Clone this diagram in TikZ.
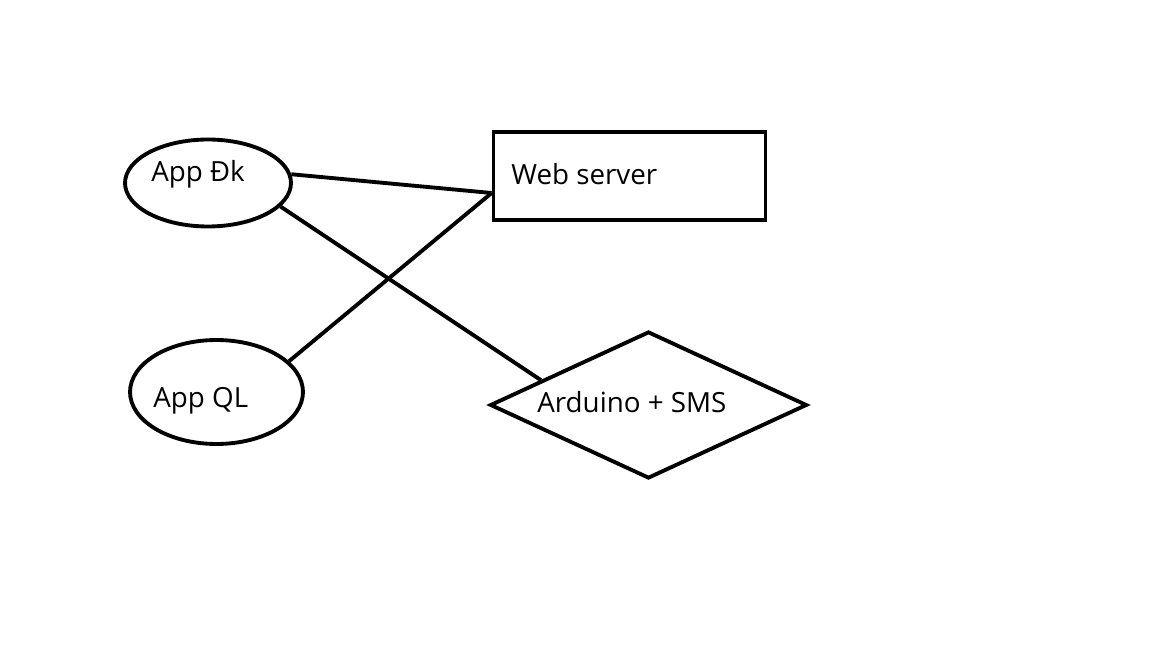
\documentclass[tikz,border=0pt]{standalone}
\usepackage{fontspec}
\setmainfont{Open Sans}
\usetikzlibrary{shapes.geometric,calc}
\begin{document}
\begin{tikzpicture}[x=0.02cm,y=-0.02cm,
  shapeline/.style={draw=black,line width=2.2pt,inner sep=0pt},
  oval/.style={shapeline,ellipse},
  box/.style={shapeline,rectangle},
  rhomb/.style={shapeline,diamond},
  lbl/.style={anchor=base west,inner sep=0pt,font=\fontsize{15.8pt}{18pt}\selectfont},
  link/.style={line width=2.2pt}]
\useasboundingbox (0,0) rectangle (1152,648);
\fill[white] (0,0) rectangle (1152,648);
\node[oval,minimum width=3.32cm,minimum height=1.74cm] (dk) at (208,183) {};
\node[oval,minimum width=3.46cm,minimum height=2.08cm] (ql) at (216.5,392) {};
\node[box,minimum width=5.44cm,minimum height=1.76cm] (web) at (629.5,176) {};
\node[rhomb,minimum width=6.34cm,minimum height=2.94cm] (ard) at (648.5,405) {};
\node[lbl] (dkt) at (151,182) {App Đk};
\node[lbl] (qlt) at (153,407) {App QL};
\node[lbl] (webt) at (511,185) {Web server};
\node[lbl] (ardt) at (537,412) {Arduino + SMS};
\draw[link] (dk.6) -- ($(web.west)+(0,17)$);
\draw[link] (ql.23) -- ($(web.west)+(0,17)$);
\draw[link] (dk.-18) -- (ard.167.6);
\end{tikzpicture}
\end{document}
